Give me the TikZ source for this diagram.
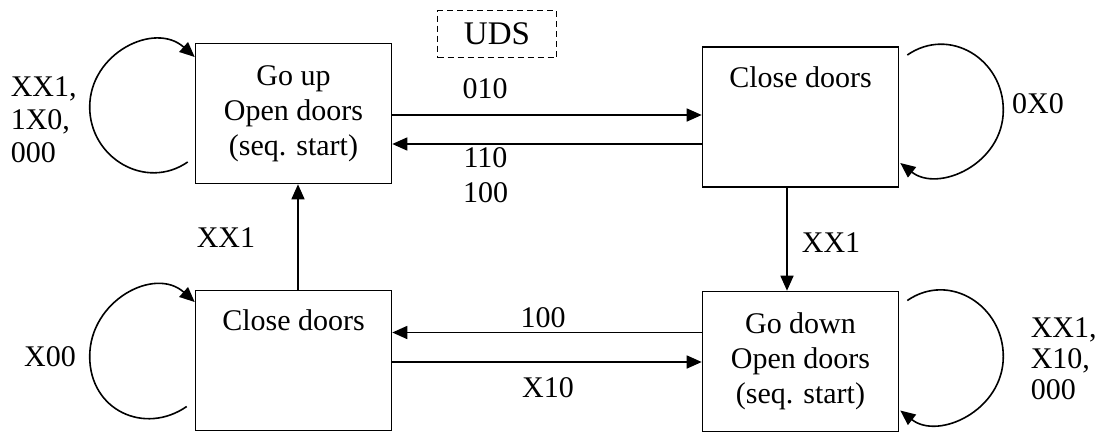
\documentclass[tikz,border=0pt]{standalone}
\usepackage{fontspec}
\setmainfont{Liberation Serif}
\usetikzlibrary{arrows.meta}

\begin{document}
\begin{tikzpicture}[x=1pt,y=-1pt,line width=1.6pt,
  >={Triangle[length=15pt,width=13pt]},
  every node/.style={font=\fontsize{30}{35}\selectfont},
  state/.style={draw,minimum width=196pt,minimum height=140pt,align=center,inner sep=0pt},
  lbl/.style={inner sep=0pt,align=left,font=\fontsize{30}{33}\selectfont}]
\useasboundingbox (0,0) rectangle (1101,432);
% states
\node[state] (up) at (293.5,113.5) {Go up\\Open doors\\(seq. start)};
\node[state] (cd) at (800.5,117) {Close doors\\~\\\strut};
\node[state] (cl) at (293.5,360.5) {Close doors\\~\\\strut};
\node[state] (dn) at (800.5,361.5) {Go down\\Open doors\\(seq. start)};
\node[draw,dash pattern=on 6pt off 4pt,minimum width=119pt,minimum height=47pt,
  inner sep=0pt,font=\fontsize{33}{40}\selectfont] (uds) at (497,34) {UDS};
% transitions
\draw [->] ([yshift=-1.5pt]up.east) -- ([yshift=-1.5pt]up.east -| cd.west);
\draw [->] ([yshift=-30.5pt]up.east -| cd.west) -- ([yshift=-30.5pt]up.east);
\draw [->] ([xshift=-13.5pt]cd.south) -- ([xshift=-13.5pt]cd.south |- dn.north);
\draw [->] ([yshift=28pt]cl.east -| dn.west) -- ([yshift=28pt]cl.east);
\draw [->] ([yshift=-1.5pt]cl.east) -- ([yshift=-1.5pt]cl.east -| dn.west);
\draw [->] ([xshift=4.5pt]cl.north) -- ([xshift=4.5pt]cl.north |- up.south);
% self loops
\draw [->] ([xshift=-7pt,yshift=-48.5pt]up.west) .. controls +(-42,29) and +(0,51) ..
  ([xshift=-105pt,yshift=6.5pt]up.west) .. controls +(0,-54) and +(-40,-36) .. ([yshift=56.5pt]up.west);
\draw [->] ([xshift=-8pt,yshift=-46pt]cl.west) .. controls +(-42,29) and +(0,54) ..
  ([xshift=-105pt,yshift=4pt]cl.west) .. controls +(0,-56) and +(-40,-36) .. ([yshift=58.5pt]cl.west);
\draw [->] ([xshift=8pt,yshift=62pt]cd.east) .. controls +(42,-29) and +(0,-51) ..
  ([xshift=104pt,yshift=7pt]cd.east) .. controls +(0,54) and +(38,30) .. ([xshift=1pt,yshift=-46pt]cd.east);
\draw [->] ([xshift=8pt,yshift=61pt]dn.east) .. controls +(42,-29) and +(0,-51) ..
  ([xshift=104pt,yshift=5pt]dn.east) .. controls +(0,54) and +(38,30) .. ([xshift=1pt,yshift=-49pt]dn.east);
% labels
\node[lbl] (l010) at (485,89) {010};
\node[lbl,align=center,font=\fontsize{30}{35}\selectfont] (l110) at (485.5,175.5) {110\\100};
\node[lbl] (lxx1a) at (226,238) {XX1};
\node[lbl] (lxx1b) at (831,243) {XX1};
\node[lbl] (l100) at (543,318) {100};
\node[lbl] (lx10) at (548,388) {X10};
\node[lbl,anchor=west] (lupl) at (10,120) {XX1,\\1X0,\\000};
\node[lbl] (l0x0) at (1038,104) {0X0};
\node[lbl] (lx00) at (50,357) {X00};
\node[lbl,anchor=west,font=\fontsize{30}{31}\selectfont] (ldnl) at (1030,359) {XX1,\\X10,\\000};
\end{tikzpicture}
\end{document}
